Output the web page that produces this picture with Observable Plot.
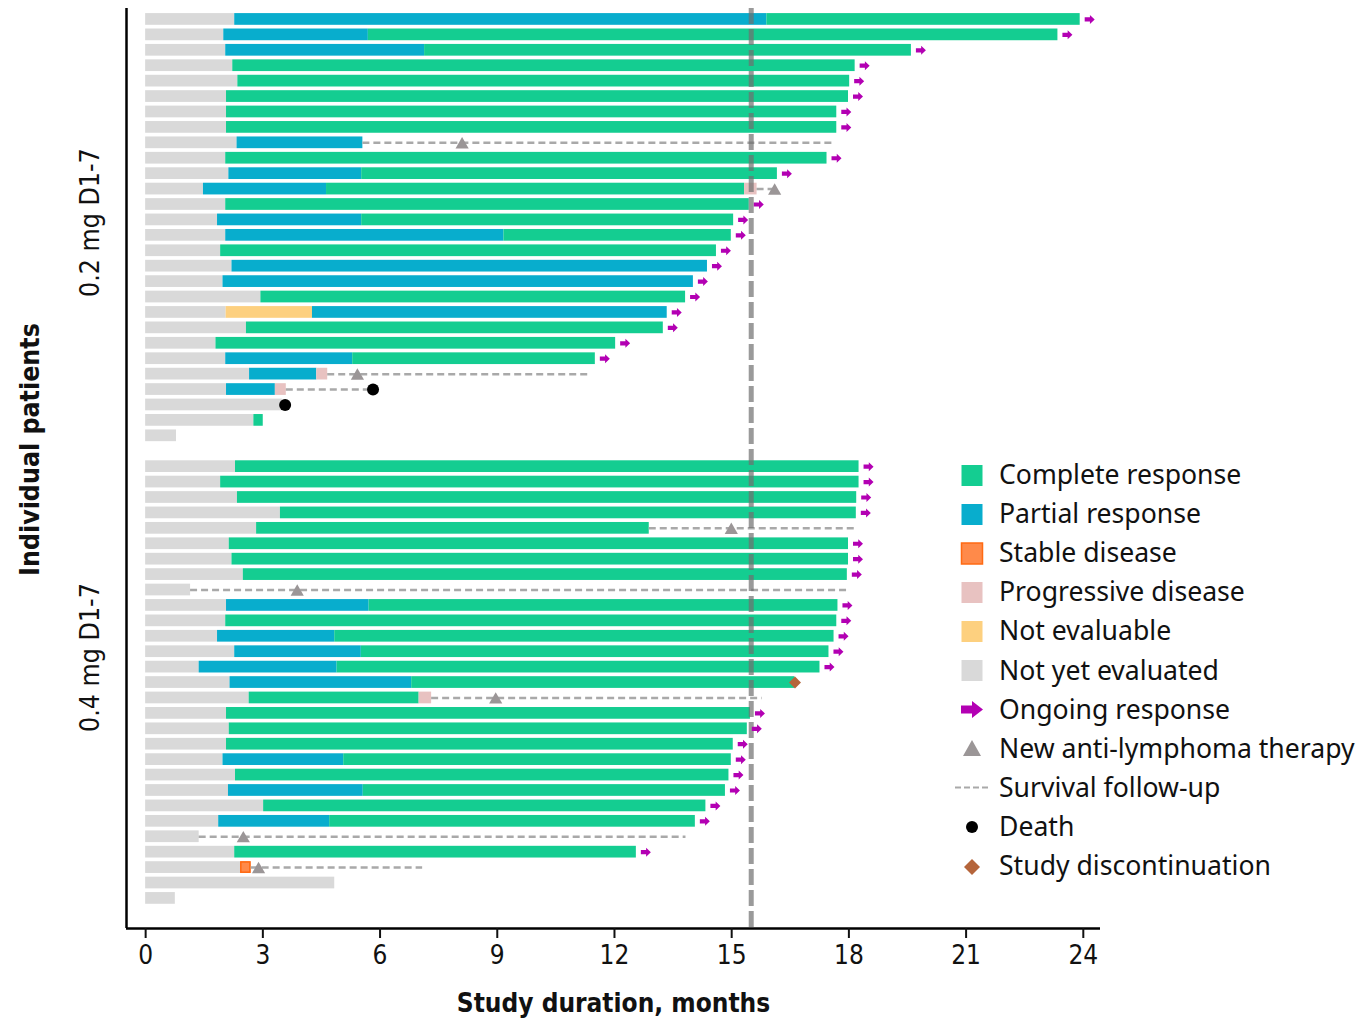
<!DOCTYPE html>
<html><head><meta charset="utf-8">
<script src="https://cdn.jsdelivr.net/npm/d3@7"></script>
<script src="https://cdn.jsdelivr.net/npm/@observablehq/plot@0.6"></script>
<style>
body{margin:0;background:#fff;}
#wrap{position:relative;width:1363px;height:1020px;overflow:hidden;}
.litem{position:absolute;left:952px;height:39px;width:410px;}
.litem svg{position:absolute;left:0;top:0;}
.litem span{position:absolute;left:47px;top:50%;transform:translateY(-52%);font-family:"Noto Sans",sans-serif;font-size:26.6px;color:#111;white-space:nowrap;}
</style></head><body><div id="wrap"><div id="chart"></div></div>
<script>
const groupLabels = ["0.2 mg D1-7", "0.4 mg D1-7"];
const statusCodes = ["CR", "PR", "SD", "PD", "NE", "NYE"];
const statusLabels = ["Complete response", "Partial response", "Stable disease", "Progressive disease", "Not evaluable", "Not yet evaluated"];
const statusColors = ["#14cd91", "#08adcd", "#ff8a4a", "#e8c2c1", "#fdd07f", "#d9d9d9"];
const xTicks = [0, 3, 6, 9, 12, 15, 18, 21, 24];
const cutoff = [15.5];

// each patient: consecutive segments [status, end month], first starts at 0
const patients02 = [
  [["NYE",2.28],["PR",15.9],["CR",23.92]],
  [["NYE",2.0],["PR",5.7],["CR",23.35]],
  [["NYE",2.05],["PR",7.14],["CR",19.6]],
  [["NYE",2.23],["CR",18.16]],
  [["NYE",2.36],["CR",18.02]],
  [["NYE",2.07],["CR",17.99]],
  [["NYE",2.07],["CR",17.69]],
  [["NYE",2.07],["CR",17.69]],
  [["NYE",2.34],["PR",5.56]],
  [["NYE",2.05],["CR",17.44]],
  [["NYE",2.13],["PR",5.53],["CR",16.17]],
  [["NYE",1.48],["PR",4.63],["CR",15.33],["PD",15.65]],
  [["NYE",2.05],["CR",15.45]],
  [["NYE",1.84],["PR",5.53],["CR",15.05]],
  [["NYE",2.05],["PR",9.17],["CR",14.99]],
  [["NYE",1.92],["CR",14.61]],
  [["NYE",2.21],["PR",14.38]],
  [["NYE",1.98],["PR",14.02]],
  [["NYE",2.95],["CR",13.82]],
  [["NYE",2.06],["NE",4.27],["PR",13.35]],
  [["NYE",2.58],["CR",13.25]],
  [["NYE",1.80],["CR",12.03]],
  [["NYE",2.05],["PR",5.30],["CR",11.51]],
  [["NYE",2.66],["PR",4.38],["PD",4.66]],
  [["NYE",2.07],["PR",3.32],["PD",3.60]],
  [["NYE",3.5]],
  [["NYE",2.77],["CR",3.01]],
  [["NYE",0.79]]
];
const patients04 = [
  [["NYE",2.30],["CR",18.26]],
  [["NYE",1.92],["CR",18.26]],
  [["NYE",2.35],["CR",18.2]],
  [["NYE",3.45],["CR",18.19]],
  [["NYE",2.84],["CR",12.89]],
  [["NYE",2.14],["CR",17.99]],
  [["NYE",2.21],["CR",17.99]],
  [["NYE",2.50],["CR",17.96]],
  [["NYE",1.15]],
  [["NYE",2.07],["PR",5.72],["CR",17.72]],
  [["NYE",2.05],["CR",17.69]],
  [["NYE",1.84],["PR",4.84],["CR",17.62]],
  [["NYE",2.28],["PR",5.52],["CR",17.49]],
  [["NYE",1.37],["PR",4.90],["CR",17.26]],
  [["NYE",2.16],["PR",6.81],["CR",16.62]],
  [["NYE",2.65],["CR",7.0],["PD",7.32]],
  [["NYE",2.07],["CR",15.48]],
  [["NYE",2.14],["CR",15.4]],
  [["NYE",2.07],["CR",15.04]],
  [["NYE",1.98],["PR",5.07],["CR",14.99]],
  [["NYE",2.30],["CR",14.93]],
  [["NYE",2.12],["PR",5.57],["CR",14.84]],
  [["NYE",3.02],["CR",14.34]],
  [["NYE",1.87],["PR",4.71],["CR",14.07]],
  [["NYE",1.37]],
  [["NYE",2.28],["CR",12.56]],
  [["NYE",2.43],["SD",2.70]],
  [["NYE",4.84]],
  [["NYE",0.76]]
];
// patient numbers (1-based, within group) with ongoing response
const ongoing02 = [1,2,3,4,5,6,7,8,10,11,13,14,15,16,17,18,19,20,21,22,23];
const ongoing04 = [1,2,3,4,6,7,8,10,11,12,13,14,17,18,19,20,21,22,23,24,26];
// survival follow-up: [patient, end month] (starts at end of bar)
const followUp02 = [[9,17.58],[12,16.1],[24,11.4],[25,5.82]];
const followUp04 = [[5,18.18],[9,17.94],[16,15.78],[25,13.83],[27,7.09]];
// new anti-lymphoma therapy: [patient, month]
const newTherapy02 = [[9,8.1],[12,16.1],[24,5.42]];
const newTherapy04 = [[5,14.99],[9,3.88],[16,8.96],[25,2.5],[27,2.89]];
// death: [patient, month]
const death02 = [[25,5.82],[26,3.57]];
const death04 = [];
// study discontinuation: [patient, month]
const discontinued02 = [];
const discontinued04 = [[15,16.62]];

// ---- build tables ----
const groups = [
  {label: groupLabels[0], patients: patients02, ongoing: ongoing02, follow: followUp02, therapy: newTherapy02, death: death02, disc: discontinued02, offset: 0},
  {label: groupLabels[1], patients: patients04, ongoing: ongoing04, follow: followUp04, therapy: newTherapy04, death: death04, disc: discontinued04, offset: patients02.length + 1}
];
const segments = [], arrows = [], follows = [], therapies = [], deaths = [], discs = [], groupMids = [];
for (const g of groups) {
  const barEnd = p => g.patients[p - 1][g.patients[p - 1].length - 1][1];
  const row = p => g.offset + p - 1;
  g.patients.forEach((segs, i) => {
    let s = 0;
    for (const [code, end] of segs) { segments.push({row: g.offset + i, start: s, end, code}); s = end; }
  });
  for (const p of g.ongoing) arrows.push({row: row(p), x: barEnd(p)});
  for (const [p, e] of g.follow) follows.push({row: row(p), start: barEnd(p), end: e});
  for (const [p, m] of g.therapy) therapies.push({row: row(p), x: m});
  for (const [p, m] of g.death) deaths.push({row: row(p), x: m});
  for (const [p, m] of g.disc) discs.push({row: row(p), x: m});
  groupMids.push({label: g.label, row: g.offset + (g.patients.length - 1) / 2});
}
const nRows = patients02.length + 1 + patients04.length;
const xDomain = [-0.49, 24.44];
const yDomain = [nRows - 1 + 1.95, -0.71];

const arrowSymbol = {
  draw(ctx, size) {
    const r = Math.sqrt(size / Math.PI);
    ctx.moveTo(-r, -0.42 * r);
    ctx.lineTo(0.05 * r, -0.42 * r);
    ctx.lineTo(0.05 * r, -0.9 * r);
    ctx.lineTo(r, 0);
    ctx.lineTo(0.05 * r, 0.9 * r);
    ctx.lineTo(0.05 * r, 0.42 * r);
    ctx.lineTo(-r, 0.42 * r);
    ctx.closePath();
  }
};

const axisFont = "'DejaVu Sans Condensed', 'Liberation Sans Narrow', sans-serif";
const halfBar = 0.38;

const chart = Plot.plot({
  width: 1363, height: 1020,
  marginLeft: 126, marginRight: 263, marginTop: 8, marginBottom: 92,
  style: {fontFamily: axisFont, color: "#111", background: "#fff"},
  x: {domain: xDomain},
  y: {domain: yDomain, axis: null},
  color: {domain: statusCodes, range: statusColors},
  marks: [
    Plot.rect(segments, {x1: "start", x2: "end", y1: d => d.row - halfBar, y2: d => d.row + halfBar, fill: "code"}),
    Plot.rect(segments.filter(d => d.code === "SD"), {x1: "start", x2: "end", y1: d => d.row - halfBar, y2: d => d.row + halfBar, fill: "code", stroke: "#ff6a13", strokeWidth: 1.5, inset: 0.75}),
    Plot.ruleY(follows, {x1: "start", x2: "end", y: "row", stroke: "#a9a9a9", strokeWidth: 2.5, strokeDasharray: "7,4"}),
    Plot.ruleX(cutoff, {stroke: "#6f6f6f", strokeOpacity: 0.7, strokeWidth: 5, strokeDasharray: "16,5"}),
    Plot.dot(arrows, {x: "x", y: "row", symbol: arrowSymbol, r: 5, fill: "#b300b3", stroke: "none", dx: 9.5}),
    Plot.dot(therapies, {x: "x", y: "row", symbol: "triangle", r: 4.9, fill: "#9b9697", stroke: "none", dy: 1.8}),
    Plot.dot(deaths, {x: "x", y: "row", r: 6, fill: "#000", stroke: "none"}),
    Plot.dot(discs, {x: "x", y: "row", symbol: "diamond2", r: 5.4, fill: "#b5653b", stroke: "none"}),
    Plot.ruleX([xDomain[0]], {stroke: "#000", strokeWidth: 2.5}),
    Plot.ruleY([yDomain[0]], {stroke: "#000", strokeWidth: 2.5}),
    Plot.axisX({ticks: xTicks, tickSize: 10, tickPadding: 7, fontSize: 26, label: null, strokeWidth: 2, fill: "#111"}),
    Plot.text(["Study duration, months"], {frameAnchor: "bottom", dy: 83, fontSize: 26, fontWeight: "bold", fill: "#111", fontFamily: axisFont}),
    Plot.text(["Individual patients"], {frameAnchor: "left", textAnchor: "middle", dx: -96, dy: -19, rotate: -90, fontSize: 26.5, fontWeight: "bold", fill: "#111", fontFamily: axisFont}),
    Plot.text(groupMids.slice(0, 1), {y: "row", text: "label", frameAnchor: "left", textAnchor: "middle", dx: -36, dy: -5, rotate: -90, fontSize: 26.5, fill: "#111", fontFamily: axisFont}),
    Plot.text(groupMids.slice(1), {y: "row", text: "label", frameAnchor: "left", textAnchor: "middle", dx: -36, dy: -25, rotate: -90, fontSize: 26.5, fill: "#111", fontFamily: axisFont})
  ]
});
document.getElementById("chart").appendChild(chart);

// ---- legend ----
const legendItems = [
  ...statusLabels.map((label, i) => ({label, kind: "swatch", color: statusColors[i], code: statusCodes[i]})),
  {label: "Ongoing response", kind: "arrow"},
  {label: "New anti-lymphoma therapy", kind: "triangle"},
  {label: "Survival follow-up", kind: "dash"},
  {label: "Death", kind: "death"},
  {label: "Study discontinuation", kind: "diamond"}
];
const wrap = document.getElementById("wrap");
legendItems.forEach((it, i) => {
  const div = document.createElement("div");
  div.className = "litem";
  div.style.top = (475 - 19.5 + i * 39.1) + "px";
  let sym = "";
  if (it.kind === "swatch") {
    const st = it.code === "SD" ? `stroke="#ff6a13" stroke-width="1.5"` : "";
    sym = `<rect x="9.5" y="9" width="21" height="21" fill="${it.color}" ${st}/>`;
  } else if (it.kind === "arrow") {
    sym = `<path d="M9,15.5 H20 V11 L31,19.5 L20,28 V23.5 H9 Z" fill="#b300b3"/>`;
  } else if (it.kind === "triangle") {
    sym = `<path d="M20,11 L29,27 L11,27 Z" fill="#9b9697"/>`;
  } else if (it.kind === "dash") {
    sym = `<line x1="3" x2="38" y1="19.5" y2="19.5" stroke="#a9a9a9" stroke-width="2.2" stroke-dasharray="6,3"/>`;
  } else if (it.kind === "death") {
    sym = `<circle cx="20" cy="20" r="6" fill="#000"/>`;
  } else if (it.kind === "diamond") {
    sym = `<path d="M20,12 L28,20 L20,28 L12,20 Z" fill="#b5653b"/>`;
  }
  div.innerHTML = `<svg width="44" height="39">${sym}</svg><span>${it.label}</span>`;
  wrap.appendChild(div);
});
</script></body></html>
